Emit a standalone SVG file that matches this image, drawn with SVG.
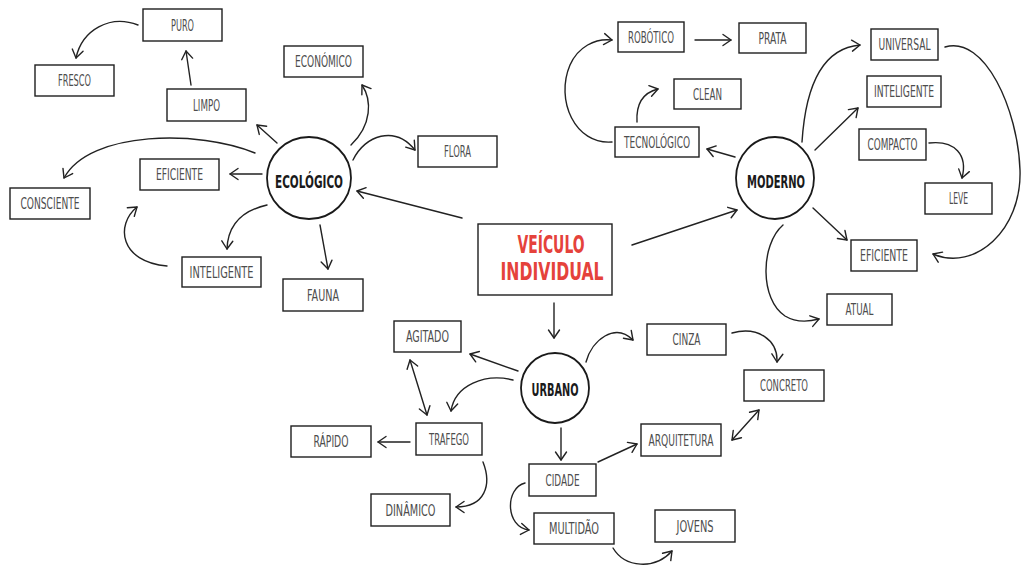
<svg xmlns="http://www.w3.org/2000/svg" width="1021" height="567" viewBox="0 0 1021 567">
<style>
.box{fill:#fff;stroke:#1e1e1e;stroke-width:1.4}
.circ{fill:#fff;stroke:#1a1a1a;stroke-width:1.8}
.lbl{font-family:"DejaVu Sans Condensed","Liberation Sans Narrow","Liberation Sans",sans-serif;font-size:15px;fill:#4d4d4d;text-anchor:middle}
.hub{font-family:"DejaVu Sans Condensed","Liberation Sans Narrow","Liberation Sans",sans-serif;font-size:18px;font-weight:bold;fill:#1a1a1a;text-anchor:middle}
.title{font-family:"DejaVu Sans Condensed","Liberation Sans Narrow","Liberation Sans",sans-serif;font-size:25px;font-weight:bold;fill:#e5423b;text-anchor:middle}
.con path{fill:none;stroke:#222;stroke-width:1.4;stroke-linecap:round;marker-end:url(#ah)}
.con path.dbl{marker-start:url(#ahs)}
</style>
<defs>
<marker id="ah" markerUnits="userSpaceOnUse" markerWidth="14" markerHeight="14" refX="11" refY="7" orient="auto">
<path d="M3,1.5 L11,7 L3,12.5" fill="none" stroke="#222" stroke-width="1.4" stroke-linecap="round" stroke-linejoin="round"/>
</marker>
<marker id="ahs" markerUnits="userSpaceOnUse" markerWidth="14" markerHeight="14" refX="11" refY="7" orient="auto-start-reverse">
<path d="M3,1.5 L11,7 L3,12.5" fill="none" stroke="#222" stroke-width="1.4" stroke-linecap="round" stroke-linejoin="round"/>
</marker>
</defs>
<rect width="1021" height="567" fill="#fff"/>
<g id="connectors" class="con">
<path d="M138,25 C110,14 82,30 76,58"/>
<path d="M191,85 L186,51"/>
<path d="M277,143 L257,125"/>
<path d="M351,145 C372,125 372,100 362,85"/>
<path d="M255,153 C200,130 90,130 64,178"/>
<path d="M262,174 L230,174"/>
<path d="M267,205 C245,210 228,222 227,249"/>
<path d="M167,266 C120,262 115,225 137,207"/>
<path d="M320,225 L328,269"/>
<path d="M353,160 C365,135 395,125 415,150"/>
<path d="M462,218 L357,191"/>
<path d="M632,245 L737,210"/>
<path d="M554,303 L554,338"/>
<path d="M735,157 L707,149"/>
<path d="M612,142 C575,145 555,100 570,65 C578,47 595,38 612,40"/>
<path d="M637,122 C636,105 642,93 658,89"/>
<path d="M695,40 L731,40"/>
<path d="M802,142 C806,80 825,48 860,45"/>
<path d="M815,150 L858,108"/>
<path d="M945,47 C985,35 1018,110 1020,170 C1022,230 975,272 933,254"/>
<path d="M929,143 C955,140 968,155 962,178"/>
<path d="M813,208 L847,240"/>
<path d="M783,225 C760,245 760,300 785,316 C795,322 808,322 819,319"/>
<path d="M518,371 L470,354"/>
<path d="M513,380 C485,373 455,385 451,411"/>
<path class="dbl" d="M410,360 L427,415"/>
<path d="M410,442 L378,442"/>
<path d="M483,462 C492,485 485,507 456,507"/>
<path d="M561,428 L561,460"/>
<path d="M525,483 C505,488 505,527 529,530"/>
<path d="M613,548 C625,568 655,570 672,551"/>
<path d="M598,462 L637,444"/>
<path class="dbl" d="M732,440 L759,410"/>
<path d="M586,362 C592,340 615,322 633,340"/>
<path d="M732,333 C758,326 778,340 777,362"/>
</g>
<g id="veiculo-individual"><rect class="box" x="478" y="224" width="134" height="71"/><text class="title" x="551" y="253" textLength="67" lengthAdjust="spacingAndGlyphs">VEÍCULO</text><text class="title" x="552" y="280" textLength="103" lengthAdjust="spacingAndGlyphs">INDIVIDUAL</text></g>
<g id="ecologico"><ellipse class="circ" cx="309" cy="178" rx="42" ry="41"/><text class="hub" x="309" y="188" textLength="68" lengthAdjust="spacingAndGlyphs">ECOLÓGICO</text></g>
<g id="moderno"><ellipse class="circ" cx="775" cy="178" rx="39" ry="41"/><text class="hub" x="776" y="188" textLength="58" lengthAdjust="spacingAndGlyphs">MODERNO</text></g>
<g id="urbano"><ellipse class="circ" cx="555" cy="388" rx="34" ry="35"/><text class="hub" x="555" y="396" textLength="47" lengthAdjust="spacingAndGlyphs">URBANO</text></g>
<g id="puro"><rect class="box" x="143" y="9" width="79" height="32"/><text class="lbl" x="182.5" y="30.5" textLength="23" lengthAdjust="spacingAndGlyphs">PURO</text></g>
<g id="fresco"><rect class="box" x="35" y="65" width="79" height="31"/><text class="lbl" x="74.5" y="86" textLength="33" lengthAdjust="spacingAndGlyphs">FRESCO</text></g>
<g id="limpo"><rect class="box" x="167" y="89" width="79" height="32"/><text class="lbl" x="206.5" y="110.5" textLength="27" lengthAdjust="spacingAndGlyphs">LIMPO</text></g>
<g id="economico"><rect class="box" x="284" y="46" width="79" height="31"/><text class="lbl" x="323.5" y="67" textLength="57" lengthAdjust="spacingAndGlyphs">ECONÓMICO</text></g>
<g id="eficiente-eco"><rect class="box" x="140" y="159" width="79" height="31"/><text class="lbl" x="179.5" y="180" textLength="47" lengthAdjust="spacingAndGlyphs">EFICIENTE</text></g>
<g id="consciente"><rect class="box" x="10" y="188" width="80" height="31"/><text class="lbl" x="50" y="209" textLength="59" lengthAdjust="spacingAndGlyphs">CONSCIENTE</text></g>
<g id="inteligente-eco"><rect class="box" x="182" y="257" width="79" height="30"/><text class="lbl" x="221.5" y="277.5" textLength="64" lengthAdjust="spacingAndGlyphs">INTELIGENTE</text></g>
<g id="fauna"><rect class="box" x="283" y="279" width="80" height="32"/><text class="lbl" x="323" y="300.5" textLength="32" lengthAdjust="spacingAndGlyphs">FAUNA</text></g>
<g id="flora"><rect class="box" x="418" y="136" width="79" height="31"/><text class="lbl" x="457.5" y="157" textLength="27" lengthAdjust="spacingAndGlyphs">FLORA</text></g>
<g id="robotico"><rect class="box" x="618" y="22" width="66" height="30"/><text class="lbl" x="651" y="42.5" textLength="46" lengthAdjust="spacingAndGlyphs">ROBÓTICO</text></g>
<g id="prata"><rect class="box" x="739" y="23" width="67" height="30"/><text class="lbl" x="772.5" y="43.5" textLength="28" lengthAdjust="spacingAndGlyphs">PRATA</text></g>
<g id="clean"><rect class="box" x="674" y="79" width="67" height="30"/><text class="lbl" x="707.5" y="99.5" textLength="29" lengthAdjust="spacingAndGlyphs">CLEAN</text></g>
<g id="tecnologico"><rect class="box" x="615" y="127" width="84" height="30"/><text class="lbl" x="657" y="147.5" textLength="66" lengthAdjust="spacingAndGlyphs">TECNOLÓGICO</text></g>
<g id="universal"><rect class="box" x="871" y="29" width="67" height="31"/><text class="lbl" x="904.5" y="50" textLength="52" lengthAdjust="spacingAndGlyphs">UNIVERSAL</text></g>
<g id="inteligente-mod"><rect class="box" x="867" y="76" width="74" height="31"/><text class="lbl" x="904" y="97" textLength="60" lengthAdjust="spacingAndGlyphs">INTELIGENTE</text></g>
<g id="compacto"><rect class="box" x="859" y="129" width="67" height="31"/><text class="lbl" x="892.5" y="150" textLength="50" lengthAdjust="spacingAndGlyphs">COMPACTO</text></g>
<g id="leve"><rect class="box" x="925" y="183" width="67" height="31"/><text class="lbl" x="958.5" y="204" textLength="19" lengthAdjust="spacingAndGlyphs">LEVE</text></g>
<g id="eficiente-mod"><rect class="box" x="851" y="240" width="66" height="31"/><text class="lbl" x="884" y="261" textLength="48" lengthAdjust="spacingAndGlyphs">EFICIENTE</text></g>
<g id="atual"><rect class="box" x="827" y="294" width="65" height="31"/><text class="lbl" x="859.5" y="315" textLength="28" lengthAdjust="spacingAndGlyphs">ATUAL</text></g>
<g id="agitado"><rect class="box" x="394" y="321" width="67" height="31"/><text class="lbl" x="427.5" y="342" textLength="43" lengthAdjust="spacingAndGlyphs">AGITADO</text></g>
<g id="trafego"><rect class="box" x="416" y="423" width="66" height="32"/><text class="lbl" x="449" y="444.5" textLength="40" lengthAdjust="spacingAndGlyphs">TRAFEGO</text></g>
<g id="rapido"><rect class="box" x="291" y="426" width="80" height="31"/><text class="lbl" x="331" y="447" textLength="35" lengthAdjust="spacingAndGlyphs">RÁPIDO</text></g>
<g id="dinamico"><rect class="box" x="371" y="494" width="79" height="32"/><text class="lbl" x="410.5" y="515.5" textLength="50" lengthAdjust="spacingAndGlyphs">DINÂMICO</text></g>
<g id="cidade"><rect class="box" x="529" y="464" width="67" height="32"/><text class="lbl" x="562.5" y="485.5" textLength="34" lengthAdjust="spacingAndGlyphs">CIDADE</text></g>
<g id="multidao"><rect class="box" x="534" y="513" width="80" height="31"/><text class="lbl" x="574" y="534" textLength="50" lengthAdjust="spacingAndGlyphs">MULTIDÃO</text></g>
<g id="jovens"><rect class="box" x="655" y="510" width="80" height="32"/><text class="lbl" x="695" y="531.5" textLength="37" lengthAdjust="spacingAndGlyphs">JOVENS</text></g>
<g id="cinza"><rect class="box" x="647" y="324" width="79" height="31"/><text class="lbl" x="686.5" y="345" textLength="28" lengthAdjust="spacingAndGlyphs">CINZA</text></g>
<g id="concreto"><rect class="box" x="744" y="370" width="80" height="31"/><text class="lbl" x="784" y="391" textLength="48" lengthAdjust="spacingAndGlyphs">CONCRETO</text></g>
<g id="arquitetura"><rect class="box" x="641" y="424" width="80" height="32"/><text class="lbl" x="681" y="445.5" textLength="65" lengthAdjust="spacingAndGlyphs">ARQUITETURA</text></g>
</svg>
